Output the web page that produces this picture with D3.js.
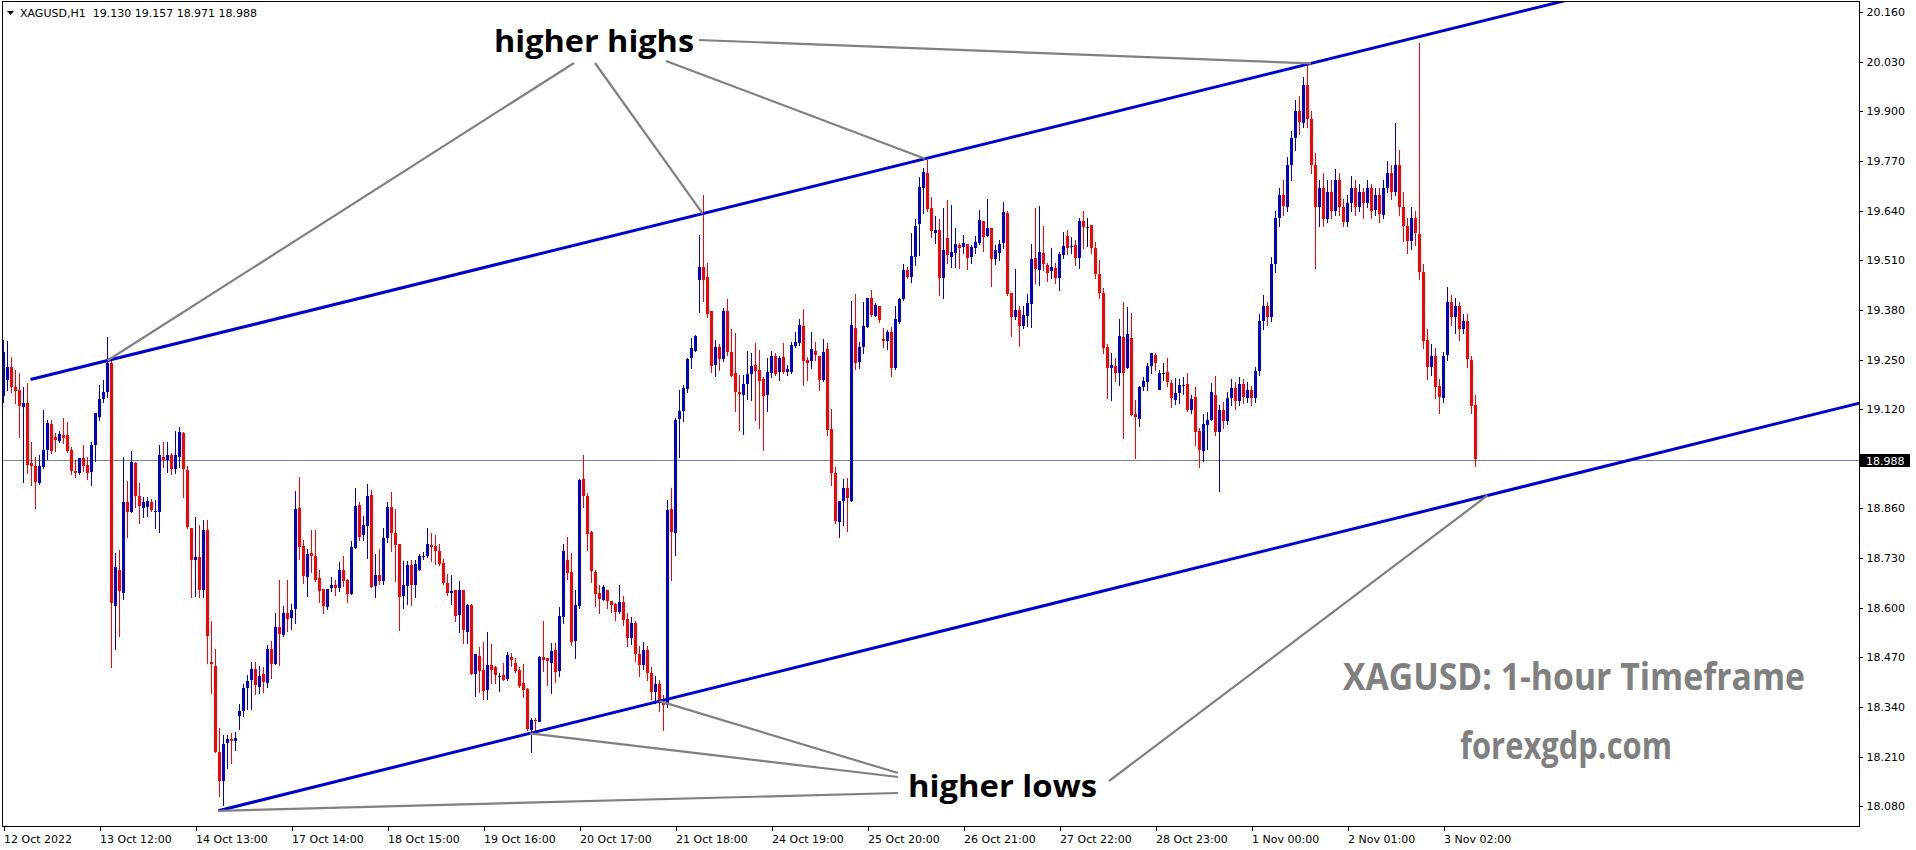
<!DOCTYPE html>
<html><head><meta charset="utf-8">
<script src="https://cdn.jsdelivr.net/npm/d3@7"></script>
<style>
body{margin:0;background:#fff;overflow:hidden}
text{white-space:pre}
</style>
</head><body>
<svg id="c" width="1916" height="850"></svg>
<script>
// ---------------- DATA (XAGUSD H1) ----------------
const symbolName = "XAGUSD,H1";
const opens = [
19.157,19.196,19.231,19.179,19.170,19.126,19.137,18.978,18.972,18.928,
18.969,19.011,19.081,19.048,19.037,19.052,19.052,19.013,18.959,18.955,
18.993,18.974,18.954,19.026,19.100,19.148,19.163,19.240,18.605,18.699,
18.639,18.878,18.851,18.980,18.893,18.862,18.862,18.878,18.853,18.851,
18.996,18.987,19.000,18.963,18.996,19.057,18.960,18.810,18.725,18.732,
18.646,18.803,18.458,18.447,18.223,18.148,18.244,18.255,18.251,18.316,
18.330,18.390,18.409,18.439,18.393,18.426,18.404,18.492,18.452,18.550,
18.528,18.585,18.574,18.595,18.860,18.761,18.681,18.742,18.735,18.677,
18.650,18.601,18.652,18.659,18.653,18.699,18.673,18.636,18.757,18.869,
18.790,18.814,18.895,18.656,18.686,18.671,18.781,18.863,18.796,18.767,
18.629,18.657,18.712,18.659,18.700,18.732,18.735,18.764,18.761,18.749,
18.716,18.666,18.640,18.646,18.580,18.646,18.537,18.607,18.426,18.473,
18.438,18.384,18.450,18.444,18.421,18.424,18.412,18.470,18.456,18.438,
18.402,18.386,18.280,18.305,18.303,18.470,18.467,18.456,18.489,18.435,
18.576,18.726,18.694,18.513,18.604,18.936,18.892,18.799,18.694,18.639,
18.622,18.646,18.617,18.611,18.589,18.616,18.570,18.520,18.560,18.480,
18.450,18.490,18.430,18.380,18.400,18.350,18.345,18.858,18.795,19.092,
19.114,19.172,19.253,19.273,19.460,19.493,19.467,19.377,19.236,19.282,
19.251,19.376,19.271,19.214,19.166,19.157,19.186,19.212,19.236,19.223,
19.198,19.157,19.214,19.259,19.217,19.256,19.216,19.216,19.286,19.295,
19.338,19.249,19.245,19.273,19.259,19.197,19.277,19.067,18.952,18.825,
18.878,18.913,18.880,19.332,19.242,19.282,19.336,19.411,19.365,19.390,
19.303,19.297,19.321,19.227,19.349,19.408,19.485,19.467,19.518,19.605,
19.701,19.738,19.646,19.582,19.589,19.464,19.568,19.521,19.530,19.550,
19.546,19.552,19.520,19.541,19.556,19.613,19.574,19.594,19.513,19.530,
19.554,19.635,19.424,19.361,19.380,19.338,19.364,19.395,19.515,19.485,
19.530,19.498,19.483,19.491,19.465,19.524,19.574,19.544,19.550,19.517,
19.613,19.598,19.602,19.541,19.473,19.424,19.282,19.229,19.233,19.214,
19.310,19.229,19.306,19.107,19.096,19.179,19.192,19.233,19.262,19.172,
19.214,19.218,19.189,19.144,19.161,19.181,19.186,19.118,19.153,19.064,
19.009,19.080,19.093,19.157,19.061,19.118,19.090,19.150,19.175,19.140,
19.185,19.150,19.170,19.150,19.220,19.350,19.390,19.360,19.500,19.620,
19.680,19.650,19.760,19.830,19.900,19.870,19.970,19.880,19.760,19.650,
19.700,19.620,19.690,19.640,19.720,19.650,19.610,19.660,19.700,19.650,
19.690,19.660,19.700,19.640,19.680,19.630,19.700,19.740,19.690,19.760,
19.650,19.600,19.560,19.620,19.580,19.480,19.300,19.230,19.260,19.180,
19.150,19.260,19.400,19.360,19.390,19.330,19.350,19.250,19.130];
const highs = [
19.300,19.299,19.257,19.222,19.214,19.179,19.188,19.035,18.996,19.000,
19.118,19.091,19.093,19.057,19.063,19.097,19.087,19.022,18.987,18.993,
19.026,18.996,19.035,19.109,19.183,19.196,19.310,19.245,18.742,18.751,
18.996,18.932,19.010,18.982,18.926,18.891,18.891,18.886,18.882,19.026,
19.035,19.035,19.004,19.063,19.074,19.060,18.972,18.810,18.838,18.816,
18.830,18.830,18.565,18.493,18.286,18.266,18.266,18.271,18.275,18.348,
18.400,18.423,18.457,18.457,18.447,18.445,18.502,18.513,18.585,18.672,
18.604,18.672,18.609,18.906,18.943,18.777,18.755,18.803,18.803,18.699,
18.650,18.650,18.681,18.672,18.719,18.735,18.674,18.775,18.913,18.878,
18.840,18.924,18.908,18.740,18.755,18.810,18.878,18.904,18.858,18.767,
18.723,18.723,18.725,18.725,18.740,18.747,18.808,18.795,18.790,18.768,
18.727,18.688,18.685,18.646,18.670,18.646,18.611,18.609,18.479,18.498,
18.511,18.537,18.505,18.447,18.430,18.456,18.485,18.482,18.467,18.445,
18.452,18.389,18.310,18.310,18.473,18.566,18.467,18.508,18.508,18.603,
18.767,18.784,18.742,18.646,18.936,18.999,18.900,18.801,18.700,18.659,
18.659,18.646,18.617,18.613,18.659,18.630,18.585,18.575,18.565,18.500,
18.510,18.500,18.445,18.420,18.410,18.370,18.882,18.913,19.096,19.169,
19.184,19.253,19.306,19.314,19.576,19.681,19.502,19.377,19.301,19.291,
19.384,19.408,19.329,19.320,19.210,19.210,19.273,19.266,19.294,19.275,
19.204,19.253,19.273,19.266,19.259,19.293,19.236,19.297,19.323,19.355,
19.382,19.258,19.323,19.297,19.259,19.303,19.293,19.120,18.968,18.880,
18.936,18.939,19.403,19.422,19.297,19.402,19.411,19.432,19.397,19.390,
19.332,19.328,19.336,19.390,19.411,19.500,19.493,19.582,19.617,19.729,
19.751,19.773,19.677,19.626,19.617,19.646,19.668,19.655,19.594,19.555,
19.576,19.552,19.550,19.574,19.642,19.613,19.670,19.594,19.550,19.563,
19.662,19.638,19.424,19.486,19.390,19.390,19.423,19.554,19.646,19.652,
19.600,19.502,19.541,19.502,19.533,19.585,19.589,19.572,19.563,19.620,
19.639,19.620,19.602,19.559,19.511,19.437,19.291,19.266,19.253,19.355,
19.402,19.387,19.371,19.144,19.181,19.205,19.242,19.268,19.266,19.223,
19.242,19.253,19.196,19.201,19.198,19.205,19.214,19.157,19.177,19.070,
19.107,19.113,19.188,19.207,19.130,19.140,19.165,19.200,19.190,19.205,
19.200,19.190,19.180,19.230,19.370,19.420,19.400,19.520,19.640,19.700,
19.720,19.780,19.850,19.930,19.940,19.990,20.030,19.900,19.790,19.720,
19.740,19.720,19.720,19.750,19.740,19.670,19.680,19.730,19.720,19.710,
19.700,19.720,19.710,19.700,19.700,19.720,19.770,19.760,19.870,19.800,
19.690,19.620,19.650,19.640,20.080,19.500,19.330,19.290,19.280,19.200,
19.270,19.440,19.420,19.410,19.400,19.370,19.370,19.260,19.157];
const lows = [
19.140,19.170,19.166,19.135,19.046,18.930,18.952,18.921,18.862,18.924,
18.965,18.989,19.006,19.011,19.034,19.032,19.007,18.950,18.943,18.950,
18.959,18.936,18.921,18.985,19.091,19.139,19.153,18.445,18.493,18.526,
18.624,18.784,18.851,18.865,18.821,18.838,18.840,18.853,18.809,18.799,
18.969,18.956,18.950,18.954,18.969,18.891,18.810,18.629,18.631,18.629,
18.627,18.456,18.377,18.223,18.107,18.083,18.179,18.192,18.227,18.281,
18.316,18.334,18.334,18.375,18.377,18.380,18.393,18.416,18.452,18.450,
18.526,18.540,18.543,18.559,18.727,18.664,18.630,18.694,18.671,18.616,
18.585,18.596,18.644,18.633,18.644,18.658,18.616,18.636,18.757,18.777,
18.777,18.729,18.654,18.629,18.662,18.662,18.771,18.749,18.671,18.541,
18.600,18.611,18.607,18.627,18.699,18.727,18.733,18.723,18.714,18.713,
18.661,18.633,18.611,18.566,18.537,18.508,18.508,18.426,18.369,18.380,
18.360,18.362,18.402,18.402,18.382,18.411,18.411,18.447,18.432,18.393,
18.367,18.280,18.223,18.275,18.303,18.435,18.397,18.377,18.406,18.421,
18.561,18.674,18.502,18.469,18.598,18.865,18.751,18.668,18.604,18.585,
18.620,18.598,18.589,18.568,18.587,18.555,18.500,18.505,18.460,18.420,
18.440,18.410,18.360,18.350,18.330,18.280,18.340,18.672,18.738,18.996,
19.088,19.166,19.227,19.273,19.375,19.404,19.361,19.218,19.207,19.223,
19.247,19.262,19.207,19.116,19.066,19.055,19.146,19.144,19.092,19.072,
19.012,19.116,19.204,19.210,19.197,19.216,19.210,19.214,19.284,19.288,
19.184,19.197,19.227,19.249,19.169,19.195,19.053,18.922,18.823,18.784,
18.817,18.802,18.880,19.225,19.227,19.267,19.335,19.365,19.363,19.349,
19.282,19.278,19.207,19.225,19.347,19.406,19.465,19.454,19.498,19.524,
19.633,19.638,19.570,19.556,19.419,19.412,19.502,19.493,19.493,19.489,
19.530,19.486,19.504,19.530,19.554,19.535,19.574,19.443,19.500,19.511,
19.541,19.419,19.312,19.355,19.286,19.334,19.338,19.336,19.450,19.445,
19.485,19.457,19.463,19.450,19.432,19.515,19.527,19.530,19.498,19.491,
19.543,19.548,19.530,19.464,19.410,19.268,19.150,19.144,19.195,19.183,
19.044,19.227,19.105,18.993,19.076,19.169,19.169,19.214,19.223,19.172,
19.196,19.181,19.127,19.134,19.137,19.161,19.114,19.109,19.026,18.969,
18.985,19.017,19.093,19.052,18.905,19.070,19.080,19.130,19.120,19.130,
19.135,19.140,19.130,19.140,19.210,19.330,19.340,19.350,19.480,19.600,
19.630,19.640,19.720,19.800,19.840,19.860,19.860,19.740,19.490,19.600,
19.600,19.610,19.620,19.630,19.630,19.600,19.600,19.640,19.630,19.640,
19.620,19.650,19.620,19.630,19.610,19.620,19.690,19.670,19.680,19.630,
19.560,19.530,19.540,19.550,19.460,19.280,19.200,19.210,19.150,19.110,
19.140,19.250,19.340,19.320,19.300,19.320,19.230,19.110,18.971];
const closes = [
19.271,19.231,19.179,19.168,19.129,19.137,18.974,18.969,18.930,18.972,
19.013,19.083,19.011,19.041,19.055,19.044,19.011,18.959,18.955,18.993,
18.973,18.954,19.026,19.109,19.148,19.166,19.240,18.610,18.706,18.644,
18.878,18.851,18.981,18.893,18.866,18.878,18.879,18.858,18.854,19.000,
18.987,19.000,18.963,19.000,19.061,18.963,18.810,18.725,18.732,18.646,
18.803,18.526,18.452,18.223,18.147,18.244,18.255,18.251,18.259,18.330,
18.390,18.409,18.439,18.397,18.421,18.404,18.492,18.452,18.550,18.531,
18.585,18.570,18.595,18.858,18.757,18.683,18.740,18.734,18.672,18.644,
18.605,18.648,18.659,18.652,18.699,18.671,18.636,18.758,18.866,18.784,
18.817,18.892,18.655,18.686,18.671,18.783,18.863,18.796,18.764,18.629,
18.659,18.712,18.659,18.714,18.736,18.735,18.767,18.760,18.747,18.716,
18.664,18.640,18.645,18.578,18.646,18.541,18.607,18.426,18.479,18.435,
18.383,18.450,18.437,18.424,18.421,18.411,18.476,18.463,18.435,18.397,
18.384,18.280,18.306,18.303,18.472,18.463,18.459,18.487,18.432,18.578,
18.748,18.692,18.511,18.607,18.934,18.891,18.793,18.697,18.636,18.622,
18.655,18.616,18.607,18.589,18.616,18.570,18.520,18.560,18.480,18.450,
18.490,18.430,18.380,18.400,18.350,18.345,18.856,18.797,19.092,19.114,
19.175,19.251,19.280,19.312,19.493,19.460,19.369,19.233,19.282,19.251,
19.376,19.268,19.207,19.163,19.160,19.186,19.211,19.233,19.221,19.195,
19.153,19.218,19.259,19.212,19.253,19.218,19.224,19.288,19.297,19.341,
19.247,19.240,19.277,19.262,19.195,19.270,19.064,18.952,18.825,18.880,
18.913,18.887,19.341,19.240,19.282,19.338,19.411,19.367,19.393,19.354,
19.297,19.321,19.227,19.356,19.408,19.485,19.467,19.521,19.600,19.703,
19.742,19.644,19.585,19.589,19.464,19.537,19.524,19.533,19.554,19.541,
19.556,19.515,19.546,19.558,19.616,19.572,19.594,19.513,19.537,19.554,
19.636,19.424,19.361,19.380,19.338,19.366,19.397,19.514,19.485,19.533,
19.500,19.478,19.493,19.466,19.527,19.547,19.543,19.547,19.517,19.613,
19.598,19.598,19.543,19.473,19.424,19.279,19.227,19.236,19.214,19.312,
19.216,19.317,19.105,19.099,19.179,19.194,19.233,19.266,19.242,19.216,
19.214,19.192,19.151,19.163,19.183,19.183,19.118,19.148,19.061,19.015,
19.080,19.093,19.166,19.061,19.118,19.090,19.150,19.175,19.140,19.185,
19.150,19.170,19.150,19.220,19.350,19.390,19.360,19.500,19.620,19.680,
19.650,19.760,19.830,19.900,19.870,19.970,19.880,19.760,19.650,19.700,
19.620,19.690,19.640,19.720,19.650,19.610,19.660,19.700,19.650,19.690,
19.660,19.700,19.640,19.680,19.630,19.700,19.740,19.690,19.760,19.650,
19.600,19.560,19.620,19.580,19.480,19.300,19.230,19.260,19.180,19.150,
19.260,19.400,19.360,19.390,19.330,19.350,19.250,19.130,18.988];

const priceTicks = [20.160,20.030,19.900,19.770,19.640,19.510,19.380,19.250,19.120,
                    18.860,18.730,18.600,18.470,18.340,18.210,18.080];
const timeTickBars = [0,24,48,72,96,120,144,168,192,216,240,264,288,312,336,360];
const timeTickLabels = ["12 Oct 2022","13 Oct 12:00","14 Oct 13:00","17 Oct 14:00",
  "18 Oct 15:00","19 Oct 16:00","20 Oct 17:00","21 Oct 18:00","24 Oct 19:00",
  "25 Oct 20:00","26 Oct 21:00","27 Oct 22:00","28 Oct 23:00","1 Nov 00:00",
  "2 Nov 01:00","3 Nov 02:00"];
// channel lines: two anchor points each [bar index, price]
const upperChannel = [[26, 19.2475], [326.9, 20.026]];
const lowerChannel = [[53.7, 18.068], [371, 18.894]];
const highTouchBars = [26, 174.8, 230.4, 326.9];
const lowTouchBars = [53.7, 131.6, 164, 371];
const labelHighs = "higher highs";
const labelLows = "higher lows";
const captionTitle = "XAGUSD: 1-hour Timeframe";
const captionSite = "forexgdp.com";

// ---------------- DRAWING ----------------
const BULL = "#0000CD", BEAR = "#FF0000", DOJI = "#000000";
const svg = d3.select("#c");
const L = 2, R = 1859, T = 1, B = 826;
const x = d3.scaleLinear().domain([0, 464]).range([3.5, 3.5 + 4 * 464]);
const y = d3.scaleLinear().domain([18.08, 20.16]).range([806.2, 12.2]);

svg.append("defs").append("clipPath").attr("id", "plot")
  .append("rect").attr("x", L).attr("y", T).attr("width", R - L).attr("height", B - T);

const plot = svg.append("g").attr("clip-path", "url(#plot)");

// bid line
const last = closes.length - 1;
const yBid = Math.round(y(closes[last])) + 0.5;
plot.append("line").attr("x1", L).attr("x2", R).attr("y1", yBid).attr("y2", yBid)
  .attr("stroke", "#778899").attr("stroke-width", 1);

// candles
const bars = d3.range(closes.length).map(i => ({i, o: opens[i], h: highs[i], l: lows[i], c: closes[i]}));
const col = d => d.c > d.o ? BULL : (d.c < d.o ? BEAR : DOJI);
const gC = plot.append("g").attr("shape-rendering", "crispEdges");
gC.selectAll("line").data(bars).join("line")
  .attr("x1", d => x(d.i)).attr("x2", d => x(d.i))
  .attr("y1", d => Math.round(y(Math.max(d.h, d.o, d.c))))
  .attr("y2", d => Math.round(y(Math.min(d.l, d.o, d.c))) + 1)
  .attr("stroke", col).attr("stroke-width", 1);
gC.selectAll("rect").data(bars).join("rect")
  .attr("x", d => x(d.i) - 1.5).attr("width", 3)
  .attr("y", d => Math.round(y(Math.max(d.o, d.c))))
  .attr("height", d => Math.max(1, Math.round(Math.abs(y(d.o) - y(d.c)))))
  .attr("fill", col);

// channel lines
function lineAt(anchors) {
  const [[i0, p0], [i1, p1]] = anchors;
  const s = (p1 - p0) / (i1 - i0);
  return i => p0 + (i - i0) * s;
}
const up = lineAt(upperChannel), lo = lineAt(lowerChannel);
plot.append("line").attr("x1", x(6.75)).attr("y1", y(up(6.75)))
  .attr("x2", x(395)).attr("y2", y(up(395)))
  .attr("stroke", BULL).attr("stroke-width", 3);
plot.append("line").attr("x1", x(lowTouchBars[0])).attr("y1", y(lo(lowTouchBars[0])))
  .attr("x2", x(464)).attr("y2", y(lo(464)))
  .attr("stroke", BULL).attr("stroke-width", 3);

// annotation pointer lines
const GRAY = "#808080";
const highStarts = [[574, 63], [595, 63], [666, 61], [699, 40]];
const lowStarts = [[898, 793], [898, 777], [898, 773], [1109, 781]];
highTouchBars.forEach((b, k) => {
  plot.append("line").attr("x1", highStarts[k][0]).attr("y1", highStarts[k][1])
    .attr("x2", x(b)).attr("y2", y(up(b))).attr("stroke", GRAY).attr("stroke-width", 2.2);
});
lowTouchBars.forEach((b, k) => {
  plot.append("line").attr("x1", lowStarts[k][0]).attr("y1", lowStarts[k][1])
    .attr("x2", x(b)).attr("y2", y(lo(b))).attr("stroke", GRAY).attr("stroke-width", 2.2);
});

// annotation texts
plot.append("text").attr("x", 494).attr("y", 52).text(labelHighs)
  .attr("font-family", "'Open Sans', 'DejaVu Sans', sans-serif").attr("font-weight", 700)
  .attr("font-size", 31).attr("textLength", 200).attr("lengthAdjust", "spacingAndGlyphs").attr("fill", "#000");
plot.append("text").attr("x", 908).attr("y", 797).text(labelLows)
  .attr("font-family", "'Open Sans', 'DejaVu Sans', sans-serif").attr("font-weight", 700)
  .attr("font-size", 31).attr("textLength", 189).attr("lengthAdjust", "spacingAndGlyphs").attr("fill", "#000");
plot.append("text").attr("x", 1343).attr("y", 690).text(captionTitle)
  .attr("font-family", "'Open Sans', 'DejaVu Sans', sans-serif").attr("font-weight", 700)
  .attr("font-size", 37).attr("textLength", 462).attr("lengthAdjust", "spacingAndGlyphs").attr("fill", GRAY);
plot.append("text").attr("x", 1460).attr("y", 759).text(captionSite)
  .attr("font-family", "'Open Sans', 'DejaVu Sans', sans-serif").attr("font-weight", 700)
  .attr("font-size", 37).attr("textLength", 212).attr("lengthAdjust", "spacingAndGlyphs").attr("fill", GRAY);

// frame
svg.append("rect").attr("x", L + 0.5).attr("y", T + 0.5).attr("width", R - L).attr("height", B - T)
  .attr("fill", "none").attr("stroke", "#000").attr("stroke-width", 1);

// axes
const AX_FONT = "'DejaVu Sans', Verdana, sans-serif";
const yAxis = svg.append("g").attr("transform", `translate(${R + 0.5},0)`)
  .call(d3.axisRight(y).tickValues(priceTicks).tickFormat(d3.format(".3f")).tickSize(3).tickPadding(4));
yAxis.select(".domain").remove();
yAxis.selectAll("text").attr("font-family", AX_FONT).attr("font-size", 11).attr("fill", "#000");
yAxis.selectAll("line").attr("stroke", "#000").attr("shape-rendering", "crispEdges");

const xAxis = svg.append("g").attr("transform", `translate(0,${B + 0.5})`)
  .call(d3.axisBottom(x).tickValues(timeTickBars).tickFormat((d, k) => timeTickLabels[k]).tickSize(4).tickPadding(5));
xAxis.select(".domain").remove();
xAxis.selectAll("text").attr("font-family", AX_FONT).attr("font-size", 11).attr("fill", "#000")
  .attr("text-anchor", "start").attr("x", 0);
xAxis.selectAll("line").attr("stroke", "#000").attr("shape-rendering", "crispEdges");

// current price label
svg.append("rect").attr("x", R + 1).attr("y", yBid - 6.5).attr("width", 50).attr("height", 13).attr("fill", "#000");
svg.append("text").attr("x", R + 7).attr("y", yBid + 4).text(d3.format(".3f")(closes[last]))
  .attr("font-family", AX_FONT).attr("font-size", 11).attr("fill", "#fff");

// header
svg.append("path").attr("d", "M7,11 L14,11 L10.5,15 Z").attr("fill", "#000");
const f3 = d3.format(".3f");
svg.append("text").attr("x", 20).attr("y", 17)
  .text(`${symbolName}  ${f3(opens[last])} ${f3(highs[last])} ${f3(lows[last])} ${f3(closes[last])}`)
  .attr("font-family", AX_FONT).attr("font-size", 11).attr("fill", "#000");
</script>
</body></html>
